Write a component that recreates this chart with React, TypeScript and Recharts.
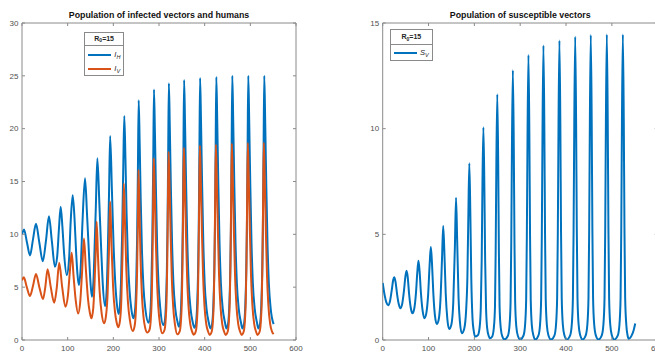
import React from 'react';
import { LineChart, Line, XAxis, YAxis, ReferenceArea } from 'recharts';

// ---------- data ----------
const X_TICKS = [0, 100, 200, 300, 400, 500, 600];
const LEFT_Y_TICKS = [0, 5, 10, 15, 20, 25, 30];
const RIGHT_Y_TICKS = [0, 5, 10, 15];

const LEFT_TITLE = 'Population of infected vectors and humans';
const RIGHT_TITLE = 'Population of susceptible vectors';

// I_H : infected humans  [time, value]
const infectedHumans: [number, number][] = [
  [0, 10.0], [4.4, 10.45], [11, 9.2], [17.5, 8.0], [24, 9.5], [30.6, 11.0], [38, 9.2], [45.5, 7.45],
  [52.5, 9.4], [59, 11.7], [65.5, 9.3], [72, 6.93], [77, 7.9], [81, 10.6], [84.7, 12.6], [88.5, 10.7],
  [92.5, 8.0], [98, 6.15], [103, 7.6], [106.6, 11.2], [111, 13.7], [115, 11.5], [118.5, 8.3], [121.5, 6.2],
  [124.5, 5.2], [128.5, 6.8], [132.5, 11.2], [138, 15.3], [142.5, 11.8], [146.5, 8.3], [150, 5.4], [153, 4.1],
  [156.5, 5.6], [158.8, 8.5], [161.5, 12.3], [165, 17.2], [169.5, 12.8], [173.5, 8.5], [177, 5.2], [182, 3.2],
  [185.5, 4.8], [188, 8.6], [190.5, 13.7], [193, 19.3], [197, 14.0], [200.5, 9.0], [204, 5.6], [207.5, 3.5],
  [211.5, 2.46], [214.5, 3.3], [217, 5.8], [219.5, 10.5], [221.8, 16.5], [224, 21.2], [226.5, 17.2], [229, 12.0],
  [232, 7.6], [235.5, 4.7], [239.5, 2.9], [244, 2.05], [247.5, 2.8], [250, 5.2], [252, 9.4], [253.8, 16.0],
  [255.5, 22.7], [257.6, 18.8], [260, 13.2], [262.6, 8.6], [266, 5.0], [270.5, 2.8], [277, 1.64], [280.5, 2.3],
  [283, 4.6], [285.4, 9.6], [287.4, 17.0], [289, 23.7], [291, 19.8], [293.5, 13.8], [296, 8.8], [299, 5.3],
  [303, 2.9], [309.5, 1.42], [312.6, 1.75], [315.1, 3.4], [317.1, 6.3], [318.6, 10.5], [320.1, 17.6], [321.6, 24.3],
  [323.6, 20.3], [326.1, 14.2], [328.6, 9.2], [331.6, 5.4], [335.6, 3.0], [340.6, 1.7], [343.5, 1.26], [346, 1.6],
  [348.5, 3.3], [350.5, 6.3], [352, 10.5], [353.5, 18.0], [355, 24.6], [357, 20.5], [359.5, 14.4], [362, 9.3],
  [365, 5.4], [369, 3.0], [374, 1.65], [377.5, 1.15], [381, 1.6], [383.5, 3.3], [385.5, 6.3], [387, 10.5],
  [388.5, 18.0], [390, 24.8], [392, 20.7], [394.5, 14.5], [397, 9.3], [400, 5.4], [404, 3.0], [409, 1.65],
  [412.5, 1.1], [416.5, 1.6], [419, 3.3], [421, 6.3], [422.5, 10.5], [424, 18.0], [425.5, 24.9], [427.5, 20.8],
  [430, 14.5], [432.5, 9.3], [435.5, 5.4], [439.5, 3.0], [444.5, 1.65], [447.5, 1.1], [451.5, 1.6], [454, 3.3],
  [456, 6.3], [457.5, 10.5], [459, 18.0], [460.5, 25.0], [462.5, 20.8], [465, 14.5], [467.5, 9.3], [470.5, 5.4],
  [474.5, 3.0], [479.5, 1.65], [482.5, 1.1], [486.5, 1.6], [489, 3.3], [491, 6.3], [492.5, 10.5], [494, 18.0],
  [495.5, 25.0], [497.5, 20.8], [500, 14.5], [502.5, 9.3], [505.5, 5.4], [509.5, 3.0], [514.5, 1.65], [517.5, 1.1],
  [521.5, 1.6], [524, 3.3], [526, 6.3], [527.5, 10.5], [529, 18.0], [530.5, 25.0], [532.5, 20.8], [535, 14.5],
  [537.5, 9.3], [540.5, 5.4], [544.5, 3.0], [551, 1.5],
];

// I_V : infected vectors  [time, value]
const infectedVectors: [number, number][] = [
  [0, 5.65], [4, 5.93], [10.5, 5.0], [17.5, 4.16], [24, 5.1], [30.6, 6.24], [38, 5.0], [46, 3.88],
  [51, 5.0], [56, 6.69], [63, 5.0], [70.5, 3.53], [76, 4.9], [81.5, 7.31], [88, 5.0], [95, 3.15],
  [100.5, 4.2], [104.5, 6.3], [108.8, 8.26], [113, 6.0], [117.5, 3.8], [123, 2.5], [127.5, 3.6], [131.5, 6.4],
  [135.7, 9.6], [140, 6.6], [144.5, 3.9], [148.5, 2.6], [152, 2.05], [156, 3.0], [159, 5.5], [161.5, 8.5],
  [163.5, 11.2], [166.5, 7.8], [170, 4.6], [174.5, 2.5], [180, 1.58], [184, 2.3], [187.5, 4.4], [190.3, 8.2],
  [193, 13.1], [196, 9.0], [199.5, 5.0], [203.5, 2.7], [207, 1.7], [211, 1.2], [214.5, 1.8], [217.5, 3.8],
  [220.2, 8.2], [223, 14.8], [225.5, 11.2], [228.5, 6.6], [232, 3.6], [236.5, 1.8], [242.4, 0.85], [246.5, 1.3],
  [249.5, 2.9], [252, 6.4], [253.7, 11.0], [255, 16.1], [257, 12.8], [259.5, 7.8], [262.5, 4.3], [266, 2.2],
  [270, 1.1], [274.4, 0.7], [279.5, 1.0], [282, 1.95], [284, 3.8], [285.5, 7.0], [287, 12.3], [288.5, 17.2],
  [290.5, 14.2], [293, 9.5], [295.5, 5.7], [298.5, 3.1], [302.5, 1.4], [307, 0.63], [312, 0.95], [314.5, 1.85],
  [316.5, 3.7], [318, 7.1], [319.5, 12.8], [321, 17.8], [323, 14.7], [325.5, 9.9], [328, 5.9], [331, 3.2],
  [335, 1.45], [340, 0.54], [345.5, 0.85], [348, 1.75], [350, 3.7], [351.5, 7.3], [353, 13.1], [354.5, 18.2],
  [356.5, 15.0], [359, 10.1], [361.5, 6.0], [364.5, 3.25], [368.5, 1.5], [372.5, 0.8], [376, 0.5], [380.5, 0.8],
  [383, 1.75], [385, 3.7], [386.5, 7.3], [388, 13.2], [389.5, 18.4], [391.5, 15.2], [394, 10.2], [396.5, 6.1],
  [399.5, 3.3], [403.5, 1.5], [407.5, 0.8], [411, 0.48], [415.5, 0.8], [418, 1.75], [420, 3.7], [421.5, 7.3],
  [423, 13.2], [424.5, 18.5], [426.5, 15.3], [429, 10.3], [431.5, 6.1], [434.5, 3.3], [438.5, 1.5], [442.5, 0.8],
  [446, 0.48], [450.5, 0.8], [453, 1.75], [455, 3.7], [456.5, 7.3], [458, 13.2], [459.5, 18.6], [461.5, 15.3],
  [464, 10.3], [466.5, 6.1], [469.5, 3.3], [473.5, 1.5], [477.5, 0.8], [481, 0.48], [485.5, 0.8], [488, 1.75],
  [490, 3.7], [491.5, 7.3], [493, 13.2], [494.5, 18.65], [496.5, 15.3], [499, 10.3], [501.5, 6.1], [504.5, 3.3],
  [508.5, 1.5], [512.5, 0.8], [515.5, 0.48], [520.5, 0.8], [523, 1.75], [525, 3.7], [526.5, 7.3], [528, 13.2],
  [529.5, 18.67], [531.5, 15.3], [534, 10.3], [536.5, 6.1], [539.5, 3.3], [543.5, 1.5], [547.5, 0.8], [551, 0.55],
];

// S_V : susceptible vectors  [time, value]
const susceptibleVectors: [number, number][] = [
  [0, 2.7], [4, 2.15], [8, 1.78], [12, 1.65], [16, 1.85], [20, 2.4], [23, 2.85], [25.3, 2.97],
  [28, 2.75], [31.5, 2.15], [35, 1.7], [38.5, 1.5], [42.5, 1.7], [46.5, 2.35], [49.5, 3.0], [52, 3.28],
  [54.5, 3.0], [57.5, 2.2], [61, 1.55], [65, 1.26], [69, 1.5], [72.5, 2.2], [75.5, 3.2], [78, 3.75],
  [80.5, 3.25], [83.5, 2.2], [87, 1.4], [91, 1.03], [95, 1.25], [99, 2.1], [102.5, 3.6], [105, 4.4],
  [107.5, 3.65], [110.5, 2.2], [114, 1.15], [118, 0.76], [122, 0.95], [126, 1.9], [129.5, 3.9], [132, 5.4],
  [134.5, 4.2], [137.5, 2.2], [141, 1.0], [145, 0.52], [150, 0.75], [154, 1.8], [157.5, 4.4], [160, 6.73],
  [162.5, 4.7], [165.5, 2.0], [168.5, 0.85], [172.5, 0.32], [178, 0.55], [182, 1.4], [184.8, 3.0], [186.8, 5.8],
  [189, 8.36], [191.2, 6.0], [193.3, 2.9], [196, 1.0], [198.5, 0.45], [201.5, 0.16], [207.5, 0.22], [211.5, 0.6],
  [214, 1.5], [216, 3.8], [217.6, 7.3], [219.7, 10.07], [221.8, 7.3], [223.5, 3.8], [225.5, 1.5], [228, 0.55],
  [231.5, 0.18], [234, 0.08], [239, 0.17], [242.5, 0.58], [245, 1.6], [246.5, 4.2], [248, 8.4], [250, 11.63],
  [252, 8.4], [253.5, 4.2], [255, 1.6], [257.5, 0.58], [261, 0.17], [265.5, 0.03], [273, 0.19], [276.5, 0.64],
  [279, 1.8], [280.5, 4.6], [282, 9.2], [284, 12.76], [286, 9.2], [287.5, 4.6], [289, 1.8], [291.5, 0.64],
  [295, 0.19], [300, 0.03], [307, 0.2], [310.5, 0.67], [313, 1.9], [314.5, 4.9], [316, 9.7], [318, 13.49],
  [320, 9.7], [321.5, 4.9], [323, 1.9], [325.5, 0.67], [329, 0.2], [332.5, 0.02], [339.7, 0.21], [343.2, 0.7],
  [345.7, 1.95], [347.2, 5.0], [348.7, 10.0], [350.7, 13.93], [352.7, 10.0], [354.2, 5.0], [355.7, 1.95], [358.2, 0.7],
  [361.7, 0.21], [367, 0.02], [374.6, 0.21], [378.1, 0.71], [380.6, 2.0], [382.1, 5.1], [383.6, 10.2], [385.6, 14.17],
  [387.6, 10.2], [389.1, 5.1], [390.6, 2.0], [393.1, 0.71], [396.6, 0.21], [401.5, 0.02], [409, 0.22], [412.5, 0.72],
  [415, 2.0], [416.5, 5.2], [418, 10.3], [420, 14.35], [422, 10.3], [423.5, 5.2], [425, 2.0], [427.5, 0.72],
  [431, 0.22], [436, 0.02], [443, 0.22], [446.5, 0.72], [449, 2.0], [450.5, 5.2], [452, 10.4], [454, 14.43],
  [456, 10.4], [457.5, 5.2], [459, 2.0], [461.5, 0.72], [465, 0.22], [470.7, 0.02], [478, 0.22], [481.5, 0.72],
  [484, 2.0], [485.5, 5.2], [487, 10.4], [489, 14.46], [491, 10.4], [492.5, 5.2], [494, 2.0], [496.5, 0.72],
  [500, 0.22], [505, 0.02], [513, 0.22], [516.5, 0.72], [519, 2.0], [520.5, 5.2], [522, 10.4], [524, 14.46],
  [526, 10.4], [527.5, 5.2], [529, 2.0], [531.5, 0.72], [534, 0.25], [537, 0.06], [544, 0.25], [548, 0.5],
  [551, 0.78],
];

// ---------- styling ----------
const FONT = '"Liberation Sans", Arial, Helvetica, sans-serif';
const AXIS_COLOR = '#8a8a8a';
const TEXT_COLOR = '#505050';
const BLUE = '#0072BD';
const ORANGE = '#D95319';
const LINE_W = 2;
const TICK_LEN = 3;

const toRows = (pts: [number, number][]) => pts.map(([t, v]) => ({ t, v }));

type Geo = { top: number; bottom: number; left: number; right: number };

function makeXTick(g: Geo) {
  return (props: any) => {
    const x = props.x;
    return (
      <g>
        <line x1={x} x2={x} y1={g.bottom} y2={g.bottom - TICK_LEN} stroke={AXIS_COLOR} strokeWidth={1} />
        <line x1={x} x2={x} y1={g.top} y2={g.top + TICK_LEN} stroke={AXIS_COLOR} strokeWidth={1} />
        <text x={x} y={g.bottom + 10.8} textAnchor="middle" fontSize={8} fill={TEXT_COLOR} fontFamily={FONT}>
          {props.payload.value}
        </text>
      </g>
    );
  };
}

function makeYTick(g: Geo) {
  return (props: any) => {
    const y = props.y;
    return (
      <g>
        <line x1={g.left} x2={g.left + TICK_LEN} y1={y} y2={y} stroke={AXIS_COLOR} strokeWidth={1} />
        <line x1={g.right} x2={g.right - TICK_LEN} y1={y} y2={y} stroke={AXIS_COLOR} strokeWidth={1} />
        <text x={g.left - 3.5} y={y + 2.8} textAnchor="end" fontSize={8} fill={TEXT_COLOR} fontFamily={FONT}>
          {props.payload.value}
        </text>
      </g>
    );
  };
}

const titleStyle = (cx: number): React.CSSProperties => ({
  position: 'absolute',
  left: cx - 150,
  width: 300,
  top: 9,
  textAlign: 'center',
  fontFamily: FONT,
  fontWeight: 'bold',
  fontSize: 8.8,
  lineHeight: '12px',
  color: '#111',
  whiteSpace: 'nowrap',
});

function LegendBox(props: {
  left: number; top: number; width: number; height: number; headerH: number;
  items: { color: string; main: string; sub: string; cy: number }[];
}) {
  const { left, top, width, height, headerH, items } = props;
  return (
    <div
      style={{
        position: 'absolute', left, top, width, height, boxSizing: 'border-box',
        border: '1px solid #8a8a8a', background: '#fff', fontFamily: FONT, color: '#262626',
      }}
    >
      <div
        style={{
          position: 'absolute', left: 0, top: 0, width: '100%', height: headerH, boxSizing: 'border-box',
          borderBottom: '1px solid #8a8a8a', textAlign: 'center', fontWeight: 'bold', fontSize: 7,
          lineHeight: `${headerH - 2}px`,
        }}
      >
        R<span style={{ fontSize: 5, position: 'relative', top: 1.5 }}>0</span>=15
      </div>
      {items.map((it, i) => (
        <div key={i}>
          <div
            style={{
              position: 'absolute', left: 2.5, top: it.cy - 1, width: 23.4, height: 2, background: it.color,
            }}
          />
          <div
            style={{
              position: 'absolute', left: 29, top: it.cy - 5, fontSize: 7.5, fontStyle: 'italic',
              lineHeight: '9px', whiteSpace: 'nowrap',
            }}
          >
            {it.main}
            <span style={{ fontSize: 5.5, position: 'relative', top: 2 }}>{it.sub}</span>
          </div>
        </div>
      ))}
    </div>
  );
}

export default function App() {
  const leftGeo: Geo = { top: 23, bottom: 340, left: 22, right: 296 };
  const rightGeo: Geo = { top: 23, bottom: 340, left: 22.7, right: 297.7 };
  const ihRows = toRows(infectedHumans);
  const ivRows = toRows(infectedVectors);
  const svRows = toRows(susceptibleVectors);

  return (
    <div
      style={{
        position: 'absolute', left: 0, top: 0, width: 655, height: 352, overflow: 'hidden',
        background: '#fff', fontFamily: FONT,
      }}
    >
      {/* Left panel */}
      <div style={{ position: 'absolute', left: 0, top: 0 }}>
        <LineChart width={312} height={352} margin={{ top: 23, right: 16, bottom: 0, left: 0 }}>
          <XAxis
            dataKey="t" type="number" domain={[0, 600]} ticks={X_TICKS} interval={0} allowDataOverflow
            height={12} tickLine={false} axisLine={false} tick={makeXTick(leftGeo)}
          />
          <YAxis
            type="number" domain={[0, 30]} ticks={LEFT_Y_TICKS} interval={0} allowDataOverflow
            width={22} tickLine={false} axisLine={false} tick={makeYTick(leftGeo)}
          />
          <ReferenceArea x1={0} x2={600} y1={0} y2={30} fill="#fff" fillOpacity={0} stroke={AXIS_COLOR} strokeWidth={1} />
          <Line data={ihRows} dataKey="v" type="monotone" stroke={BLUE} strokeWidth={LINE_W} dot={false}
            activeDot={false} isAnimationActive={false} />
          <Line data={ivRows} dataKey="v" type="monotone" stroke={ORANGE} strokeWidth={LINE_W} dot={false}
            activeDot={false} isAnimationActive={false} />
        </LineChart>
        <div style={titleStyle(159)}>{LEFT_TITLE}</div>
        <LegendBox
          left={84.3} top={31.7} width={39.7} height={44.3} headerH={13.3}
          items={[
            { color: BLUE, main: 'I', sub: 'H', cy: 22.6 },
            { color: ORANGE, main: 'I', sub: 'V', cy: 36.6 },
          ]}
        />
      </div>

      {/* Right panel */}
      <div style={{ position: 'absolute', left: 360, top: 0, width: 310, height: 352 }}>
        <LineChart width={310} height={352} margin={{ top: 23, right: 12.3, bottom: 0, left: 0 }}>
          <XAxis
            dataKey="t" type="number" domain={[0, 600]} ticks={X_TICKS} interval={0} allowDataOverflow
            height={12} tickLine={false} axisLine={false} tick={makeXTick(rightGeo)}
          />
          <YAxis
            type="number" domain={[0, 15]} ticks={RIGHT_Y_TICKS} interval={0} allowDataOverflow
            width={22.7} tickLine={false} axisLine={false} tick={makeYTick(rightGeo)}
          />
          <ReferenceArea x1={0} x2={600} y1={0} y2={15} fill="#fff" fillOpacity={0} stroke={AXIS_COLOR} strokeWidth={1} />
          <Line data={svRows} dataKey="v" type="monotone" stroke={BLUE} strokeWidth={LINE_W} dot={false}
            activeDot={false} isAnimationActive={false} />
        </LineChart>
        <div style={titleStyle(160.2)}>{RIGHT_TITLE}</div>
        <LegendBox
          left={30} top={29.3} width={42.7} height={31.7} headerH={15}
          items={[{ color: BLUE, main: 'S', sub: 'V', cy: 22.4 }]}
        />
      </div>
    </div>
  );
}
